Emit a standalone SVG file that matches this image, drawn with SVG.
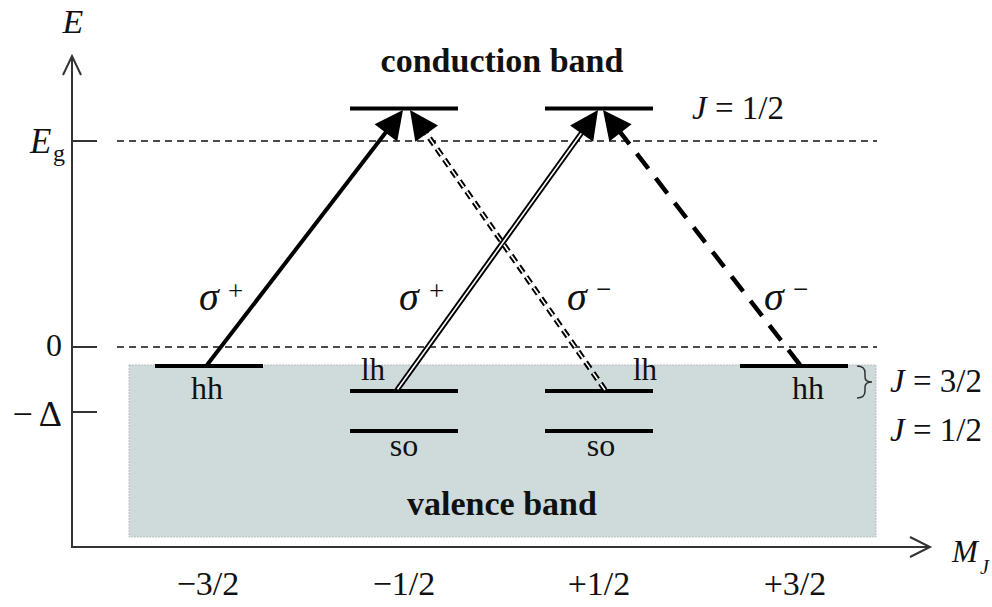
<svg xmlns="http://www.w3.org/2000/svg" width="992" height="607" viewBox="0 0 992 607">
<style>
text{font-family:"Liberation Serif","Times New Roman",serif;fill:#111}
.b{font-weight:bold}
.i{font-style:italic}
.lvl{stroke:#000;stroke-width:4;fill:none}
.ax{stroke:#333;stroke-width:2;fill:none}
.dash{stroke:#111;stroke-width:1.5;stroke-dasharray:7 5;fill:none}
.head{fill:#000;stroke:none}
.sig{font-style:italic;font-size:40px}
.sup{font-style:normal;font-size:27px}
</style>
<rect x="129" y="365" width="747" height="172" fill="#cfdbdb" stroke="#b8c0c0" stroke-width="1" stroke-dasharray="2 1"/>
<g id="axes">
<line class="ax" x1="72" y1="548" x2="72" y2="56"/>
<polyline class="ax" points="63,75 72,56 81,75"/>
<line class="ax" x1="71" y1="547" x2="930" y2="547"/>
<polyline class="ax" points="910,537 930,547 910,557"/>
<line class="ax" x1="72" y1="141" x2="97" y2="141"/>
<line class="ax" x1="72" y1="347" x2="97" y2="347"/>
<line class="ax" x1="72" y1="412" x2="97" y2="412"/>
<text class="i" x="73" y="33" font-size="34" text-anchor="middle">E</text>
<text class="i" x="30" y="153" font-size="35">E</text>
<text x="53" y="161" font-size="24">g</text>
<text x="62" y="356" font-size="32" text-anchor="end">0</text>
<text x="62" y="426" font-size="36" text-anchor="end">−<tspan dx="6">Δ</tspan></text>
<text class="i" x="952" y="562" font-size="31">M</text>
<text class="i" x="980" y="574" font-size="20">J</text>
<text x="208" y="595" font-size="34" text-anchor="middle">−3/2</text>
<text x="404" y="595" font-size="34" text-anchor="middle">−1/2</text>
<text x="599" y="595" font-size="34" text-anchor="middle">+1/2</text>
<text x="795" y="595" font-size="34" text-anchor="middle">+3/2</text>
</g>
<g id="reference-lines">
<line class="dash" x1="117" y1="141" x2="877" y2="141"/>
<line class="dash" x1="117" y1="347" x2="877" y2="347"/>
</g>
<g id="conduction-band">
<text class="b" x="502" y="72" font-size="34" text-anchor="middle">conduction band</text>
<line class="lvl" x1="350" y1="108.5" x2="458" y2="108.5"/>
<line class="lvl" x1="545" y1="108.5" x2="653" y2="108.5"/>
<text x="692" y="119" font-size="33"><tspan class="i">J</tspan> = 1/2</text>
</g>
<g id="hh-left">
<line class="lvl" x1="155" y1="366" x2="263" y2="366"/>
<text x="207" y="399" font-size="32" text-anchor="middle">hh</text>
</g>
<g id="lh-left">
<line class="lvl" x1="350" y1="391" x2="458" y2="391"/>
<text x="373" y="380" font-size="31" text-anchor="middle">lh</text>
</g>
<g id="so-left">
<line class="lvl" x1="350" y1="431" x2="458" y2="431"/>
<text x="404" y="456" font-size="32" text-anchor="middle">so</text>
</g>
<g id="lh-right">
<line class="lvl" x1="545" y1="391" x2="653" y2="391"/>
<text x="645" y="380" font-size="31" text-anchor="middle">lh</text>
</g>
<g id="so-right">
<line class="lvl" x1="545" y1="431" x2="653" y2="431"/>
<text x="601" y="456" font-size="32" text-anchor="middle">so</text>
</g>
<g id="hh-right">
<line class="lvl" x1="740" y1="366" x2="848" y2="366"/>
<text x="808" y="399" font-size="32" text-anchor="middle">hh</text>
</g>
<g id="valence-band">
<text class="b" x="502" y="515" font-size="34" text-anchor="middle">valence band</text>
<path d="M857,366 Q865,366 865,373 L865,377 Q865,382 872,382 Q865,382 865,387 L865,391 Q865,398 857,398" fill="none" stroke="#333" stroke-width="1.5"/>
<text x="890" y="392" font-size="33"><tspan class="i">J</tspan> = 3/2</text>
<text x="890" y="441" font-size="33"><tspan class="i">J</tspan> = 1/2</text>
</g>
<g id="connectors">
<line x1="207" y1="365" x2="388.4" y2="129" stroke="#000" stroke-width="4"/>
<polygon class="head" points="403,110 397.2,141.6 374.6,124.3"/>
<line x1="397" y1="390" x2="584" y2="129.5" stroke="#000" stroke-width="5.5"/>
<line x1="397.5" y1="389.3" x2="584" y2="129.5" stroke="#fff" stroke-width="1.6"/>
<polygon class="head" points="598,110 593.2,141.8 570.1,125.5"/>
<line x1="605" y1="390" x2="423.7" y2="129.7" stroke="#000" stroke-width="5.5" stroke-dasharray="8 5"/>
<line x1="605" y1="390" x2="423.7" y2="129.7" stroke="#fff" stroke-width="1.6" stroke-dasharray="8 5"/>
<polygon class="head" points="410,110 438,125.6 415.3,141.8"/>
<line x1="800" y1="365" x2="617.7" y2="129" stroke="#000" stroke-width="4.5" stroke-dasharray="19 12"/>
<polygon class="head" points="603,110 631.6,124.2 609.3,141.5"/>
<text class="sig" x="199" y="310">σ</text><text class="sup" x="228" y="300">+</text>
<text class="sig" x="399" y="310">σ</text><text class="sup" x="429" y="300">+</text>
<text class="sig" x="567" y="310">σ</text><text class="sup" x="596" y="298">−</text>
<text class="sig" x="764" y="310">σ</text><text class="sup" x="793" y="298">−</text>
</g>
</svg>
